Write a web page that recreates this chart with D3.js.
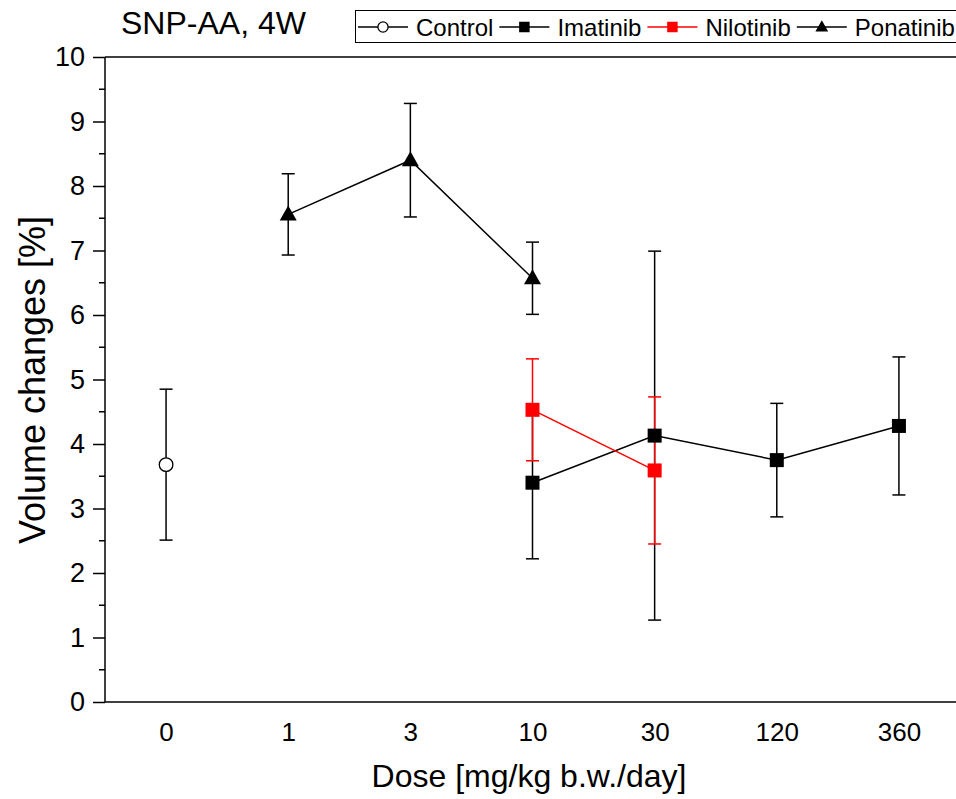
<!DOCTYPE html>
<html>
<head>
<meta charset="utf-8">
<script src="https://cdn.jsdelivr.net/npm/d3@7"></script>
<style>
  html, body { margin: 0; padding: 0; background: #fff; }
  svg { display: block; font-family: "Liberation Sans", Arial, sans-serif; }
</style>
</head>
<body>
<svg id="chart" width="956" height="799"></svg>
<script>
// ---- data ----
const categories = ["0", "1", "3", "10", "30", "120", "360"];
const yTicks = [0, 1, 2, 3, 4, 5, 6, 7, 8, 9, 10];

const controlDoses = ["0"];
const controlMeans = [3.68];
const controlErrors = [1.17];

const imatinibDoses = ["10", "30", "120", "360"];
const imatinibMeans = [3.40, 4.13, 3.75, 4.28];
const imatinibErrors = [1.18, 2.86, 0.88, 1.07];

const nilotinibDoses = ["10", "30"];
const nilotinibMeans = [4.53, 3.59];
const nilotinibErrors = [0.79, 1.14];

const ponatinibDoses = ["1", "3", "10"];
const ponatinibMeans = [7.56, 8.40, 6.57];
const ponatinibErrors = [0.63, 0.88, 0.56];

const titleText = "SNP-AA, 4W";
const xTitle = "Dose [mg/kg b.w./day]";
const yTitle = "Volume changes [%]";

(function () {
function build(doses, means, errs) {
  return doses.map((d, i) => ({ dose: d, mean: means[i], err: errs[i] }));
}
const series = [
  { name: "Control", color: "#000", marker: "circle", data: build(controlDoses, controlMeans, controlErrors) },
  { name: "Imatinib", color: "#000", marker: "square", data: build(imatinibDoses, imatinibMeans, imatinibErrors) },
  { name: "Nilotinib", color: "#ff0000", marker: "square", data: build(nilotinibDoses, nilotinibMeans, nilotinibErrors) },
  { name: "Ponatinib", color: "#000", marker: "triangle", data: build(ponatinibDoses, ponatinibMeans, ponatinibErrors) }
];

const svg = d3.select("#chart");
const pLeft = 105, pRight = 960, pTop = 57, pBottom = 702;

const x = d3.scalePoint().domain(categories).range([pLeft, pRight]).padding(0.5);
const y = d3.scaleLinear().domain([0, 10]).range([pBottom, pTop]);

svg.append("line").attr("x1", pLeft).attr("x2", pRight).attr("y1", pTop).attr("y2", pTop)
  .attr("stroke", "#000").attr("stroke-width", 1.5);

// y axis
const yAxis = d3.axisLeft(y).tickValues(yTicks).tickFormat(d3.format("d")).tickSize(12).tickPadding(8);
const gy = svg.append("g").attr("transform", `translate(${pLeft},0)`).call(yAxis);
gy.select(".domain").attr("stroke-width", 1.5).attr("d", `M0,${pBottom}V${pTop}`);
gy.selectAll(".tick line").attr("stroke-width", 1.5);
gy.selectAll(".tick text").attr("font-size", 27).attr("font-family", "Liberation Sans, Arial, sans-serif").attr("fill", "#000");
const minor = d3.range(0.5, 10, 1);
gy.selectAll(".minor").data(minor).enter().append("line")
  .attr("x1", -6).attr("x2", 0).attr("y1", d => y(d)).attr("y2", d => y(d))
  .attr("stroke", "#000").attr("stroke-width", 1.5);

// x axis
const xAxis = d3.axisBottom(x).tickSize(0).tickPadding(21);
const gx = svg.append("g").attr("transform", `translate(0,${pBottom})`).call(xAxis);
gx.select(".domain").attr("stroke-width", 1.5).attr("d", `M${pLeft},0H${pRight}`);
gx.selectAll(".tick text").attr("font-size", 26).attr("font-family", "Liberation Sans, Arial, sans-serif").attr("fill", "#000");

// axis titles
svg.append("text").attr("x", 529).attr("y", 787)
  .attr("text-anchor", "middle").attr("font-size", 32).text(xTitle);
svg.append("text").attr("transform", `translate(45,${380}) rotate(-90)`)
  .attr("text-anchor", "middle").attr("font-size", 36).text(yTitle);

svg.append("text").attr("x", 121).attr("y", 34).attr("font-size", 32).text(titleText);

// ---- marks ----
const capW = 13;
const plot = svg.append("g");
const errG = plot.append("g");
series.forEach(s => {
  const g = errG.append("g").attr("stroke", s.color).attr("stroke-width", 1.5);
  s.data.forEach(d => {
    const cx = x(d.dose);
    g.append("line").attr("x1", cx).attr("x2", cx).attr("y1", y(d.mean - d.err)).attr("y2", y(d.mean + d.err));
    g.append("line").attr("x1", cx - capW / 2).attr("x2", cx + capW / 2).attr("y1", y(d.mean + d.err)).attr("y2", y(d.mean + d.err));
    g.append("line").attr("x1", cx - capW / 2).attr("x2", cx + capW / 2).attr("y1", y(d.mean - d.err)).attr("y2", y(d.mean - d.err));
  });
});

const lineGen = d3.line().x(d => x(d.dose)).y(d => y(d.mean));
series.forEach(s => {
  if (s.data.length > 1) {
    plot.append("path").attr("d", lineGen(s.data)).attr("fill", "none")
      .attr("stroke", s.color).attr("stroke-width", 1.5);
  }
});

function drawMarker(g, type, cx, cy, color, scale) {
  scale = scale || 1;
  if (type === "circle") {
    g.append("circle").attr("cx", cx).attr("cy", cy).attr("r", 6.8 * scale)
      .attr("fill", "#fff").attr("stroke", color).attr("stroke-width", 1.3);
  } else if (type === "square") {
    const s = 14 * scale;
    g.append("rect").attr("x", cx - s / 2).attr("y", cy - s / 2).attr("width", s).attr("height", s)
      .attr("fill", color);
  } else {
    const w = 17 * scale, h = 15 * scale;
    g.append("path").attr("d", `M${cx},${cy - h * 0.6}L${cx + w / 2},${cy + h * 0.4}L${cx - w / 2},${cy + h * 0.4}Z`)
      .attr("fill", color);
  }
}
series.forEach(s => {
  s.data.forEach(d => drawMarker(plot, s.marker, x(d.dose), y(d.mean), s.color));
});

// ---- legend ----
const legG = svg.append("g");
const legY = 27;
let lx = 358;
series.forEach(s => {
  const g = legG.append("g");
  g.append("line").attr("x1", lx).attr("x2", lx + 50).attr("y1", legY).attr("y2", legY)
    .attr("stroke", s.color).attr("stroke-width", 1.5);
  drawMarker(g, s.marker, lx + 25, legY, s.color, 0.75);
  const t = g.append("text").attr("x", lx + 58).attr("y", legY + 8.5).attr("font-size", 24).text(s.name);
  lx += 58 + t.node().getComputedTextLength() + 6;
});
legG.insert("rect", ":first-child").attr("x", 355.5).attr("y", 10.5).attr("width", 700).attr("height", 32)
  .attr("fill", "#fff").attr("stroke", "#000").attr("stroke-width", 1);
})();
</script>
</body>
</html>
